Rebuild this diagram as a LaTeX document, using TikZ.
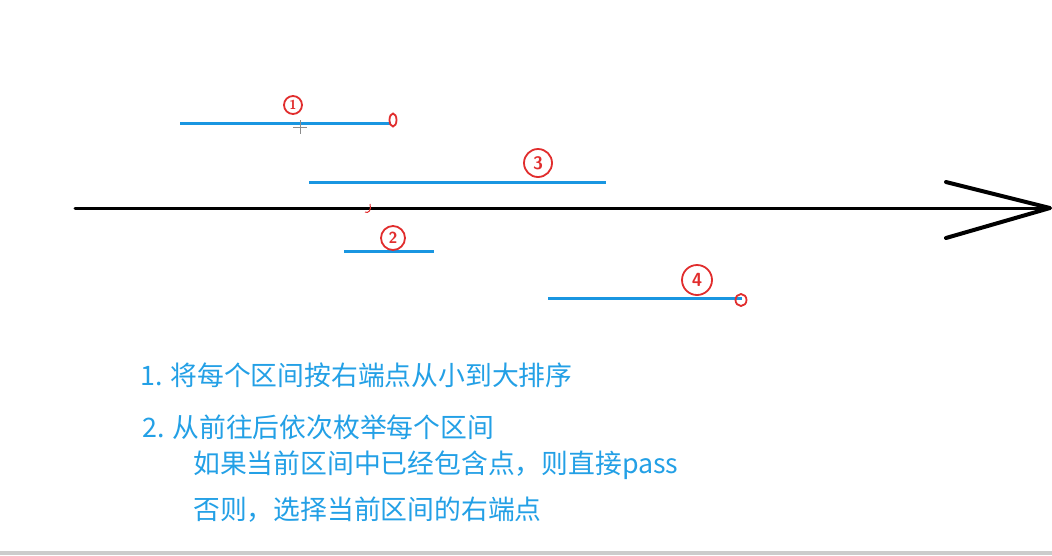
\documentclass[tikz,border=0pt]{standalone}
\usepackage{fontspec}
\newfontfamily\cjk{Noto Sans CJK SC}
\definecolor{segblue}{RGB}{25,150,225}
\definecolor{txtblue}{RGB}{35,160,230}
\definecolor{penred}{RGB}{225,45,45}
\tikzset{
  axis/.style={line width=3pt,black,line cap=round},
  interval/.style={line width=3pt,segblue},
  num/.style 2 args={circle,draw=penred,line width=1.8pt,text=penred,inner sep=0pt,
    minimum size=#1pt,font=\sffamily\bfseries\fontsize{#2}{#2}\selectfont},
  endmark/.style={ellipse,draw=penred,line width=1.8pt,inner sep=0pt},
  line/.style={anchor=west,text=txtblue,inner sep=0pt,font=\cjk\fontsize{26.8}{27}\selectfont}
}
\usetikzlibrary{shapes.geometric}

\begin{document}
\begin{tikzpicture}[x=1pt,y=-1pt]
            \useasboundingbox[fill=white] (0,0) rectangle (1052,555);
            \fill[black!20] (0,551) rectangle (1052,555);
            % number line
            \coordinate (o) at (75,208);
            \coordinate (e) at (1050,208);
            \coordinate (u) at (946,182);
            \coordinate (l) at (946,238);
            \draw[axis](o)--(e);
            \draw[axis,line width=4pt,line join=round](u)--(e)--(l);
            % intervals
            \coordinate (a1) at (180,123);
            \coordinate (b1) at (391,123);
            \coordinate (a2) at (309,182);
            \coordinate (b2) at (606,182);
            \coordinate (a3) at (344,251);
            \coordinate (b3) at (434,251);
            \coordinate (a4) at (548,298);
            \coordinate (b4) at (742,298);
            \draw[interval](a1)--(b1);
            \draw[interval](a2)--(b2);
            \draw[interval](a3)--(b3);
            \draw[interval](a4)--(b4);
            % chosen points
            \node[endmark,minimum width=7pt,minimum height=13pt] (p1) at (393,120) {};
            \node[endmark,minimum width=11pt,minimum height=12pt] (p4) at (741,300) {};
            % labels
            \node[num={18}{13}] (n1) at (293,105) {1};
            \node[num={28}{18}] (n3) at (538,163) {3};
            \node[num={24}{16}] (n2) at (393,238) {2};
            \node[num={30}{19}] (n4) at (697,280) {4};
            \draw[penred,line width=1pt](370,204)..controls (372,210) and (368,214)..(365,212);
            % cursor
            \draw[black!45,line width=1pt](300,120)--(300,134) (293,127)--(307,127);
            % steps
            \node[line] (s1) at (140,375) {1. 将每个区间按右端点从小到大排序};
            \node[line] (s2) at (142,427) {2. 从前往后依次枚举每个区间};
            \node[line] (s3) at (193,465) {如果当前区间中已经包含点，则直接pass};
            \node[line] (s4) at (193,510) {否则，选择当前区间的右端点};
        \end{tikzpicture}
\end{document}
